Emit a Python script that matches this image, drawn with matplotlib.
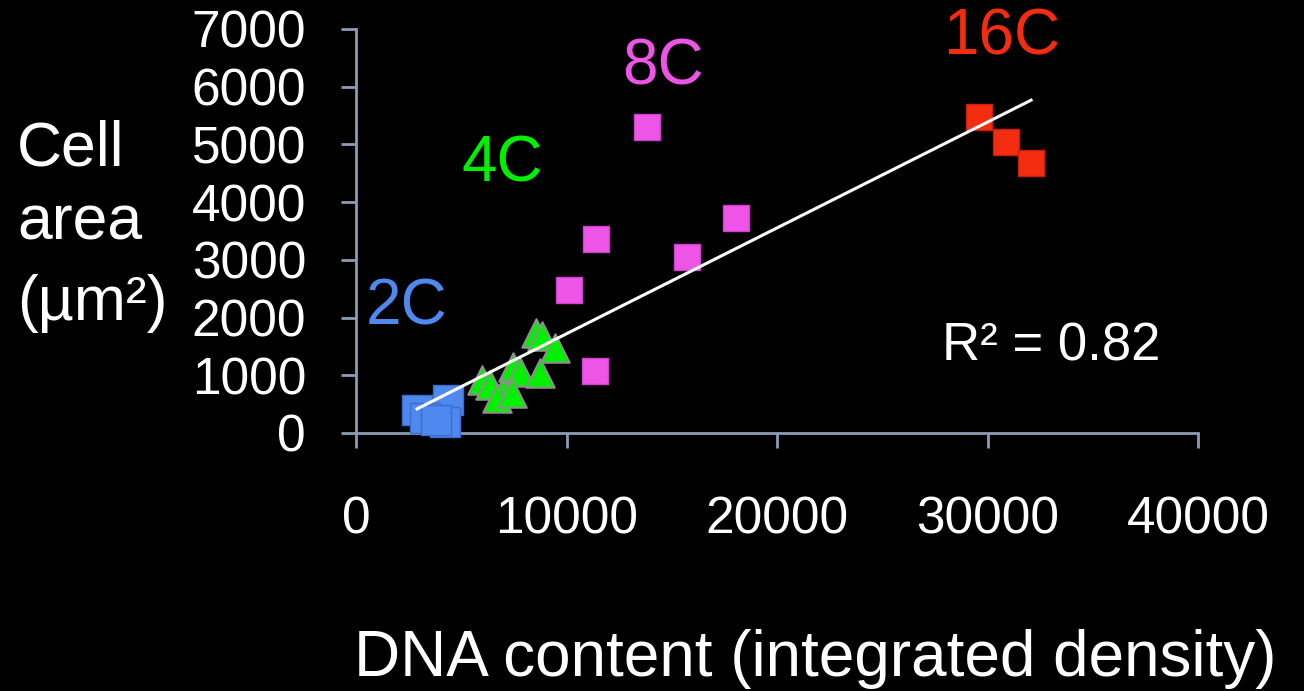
import numpy as np
import matplotlib
matplotlib.use("Agg")
import matplotlib.pyplot as plt

plt.rcParams['font.family'] = ['Liberation Sans', 'DejaVu Sans']

# Data (DNA content, cell area)
x_2c = [2900, 4370, 3280, 4230, 3800]
y_2c = [400, 572, 260, 191, 225]

x_4c = [8550, 8840, 9450, 7460, 7790, 5990, 6370, 8740, 6980, 6700, 7410]
y_4c = [1733, 1681, 1473, 1144, 1057, 919, 832, 1040, 711, 607, 693]

x_8c = [13820, 11400, 10120, 15720, 18050, 11350]
y_8c = [5303, 3362, 2478, 3050, 3726, 1075]

x_16c = [29600, 30880, 32070]
y_16c = [5477, 5043, 4679]

x_ticks = [0, 10000, 20000, 30000, 40000]
y_ticks = [0, 1000, 2000, 3000, 4000, 5000, 6000, 7000]
r2_text = "R² = 0.82"

col_2c = '#4f88ee'
col_4c = '#00f000'
col_8c = '#ee55e6'
col_16c = '#f42c10'
axis_col = '#8c9cb4'

fig = plt.figure(figsize=(13.04, 6.91), dpi=100, facecolor='black')
ax = fig.add_axes([356/1304, 1-433/691, (1198-356)/1304, (433-29)/691])
ax.set_facecolor('black')
ax.patch.set_alpha(0)

ax.scatter(x_2c, y_2c, marker='s', s=480, color=col_2c, edgecolors='#3a6fd0', linewidths=1, zorder=3, clip_on=False)
ax.scatter(x_4c, y_4c, marker='^', s=420, color=col_4c, edgecolors='#8f8f8f', linewidths=1.5, zorder=4)
ax.scatter(x_8c, y_8c, marker='s', s=330, color=col_8c, edgecolors='#d040d0', linewidths=1, zorder=3)
ax.scatter(x_16c, y_16c, marker='s', s=330, color=col_16c, edgecolors='#c81e0a', linewidths=1, zorder=3)

all_x = np.array(x_2c + x_4c + x_8c + x_16c, dtype=float)
all_y = np.array(y_2c + y_4c + y_8c + y_16c, dtype=float)
m, b = np.polyfit(all_x, all_y, 1)
xx = np.array([all_x.min(), all_x.max()])
ax.plot(xx, m*xx + b, color='white', lw=2.2, zorder=5)

ax.set_xlim(0, 40000)
ax.set_ylim(0, 7000)
ax.set_xticks(x_ticks)
ax.set_yticks(y_ticks)
ax.set_xticklabels([str(t) for t in x_ticks])
ax.set_yticklabels([str(t) for t in y_ticks])
for s in ['top', 'right']:
    ax.spines[s].set_visible(False)
for s in ['left', 'bottom']:
    ax.spines[s].set_color(axis_col)
    ax.spines[s].set_linewidth(2)
ax.tick_params(axis='both', colors=axis_col, width=2, length=11, direction='out', labelcolor='white', labelsize=37)
ax.tick_params(axis='y', pad=25)
ax.tick_params(axis='x', pad=34)

ax.text(2420, 1872, '2C', color=col_2c, fontsize=46, ha='center', va='baseline')
ax.text(6936, 4350, '4C', color=col_4c, fontsize=46, ha='center', va='baseline')
ax.text(14584, 6031, '8C', color=col_8c, fontsize=46, ha='center', va='baseline')
ax.text(30689, 6551, '16C', color=col_16c, fontsize=46, ha='center', va='baseline', clip_on=False)
ax.text(33017, 1248, r2_text, color='white', fontsize=38, ha='center', va='baseline')

fig.text(17/1304, 1-165/691, 'Cell', color='white', fontsize=45, ha='left', va='baseline')
fig.text(17/1304, 1-240/691, 'area', color='white', fontsize=45, ha='left', va='baseline')
fig.text(17/1304, 1-320/691, '(µm²)', color='white', fontsize=45, ha='left', va='baseline')
fig.text(815/1304, 1-676/691, 'DNA content (integrated density)', color='white', fontsize=46, ha='center', va='baseline')

fig.savefig('out.png', dpi=100, facecolor='black')
